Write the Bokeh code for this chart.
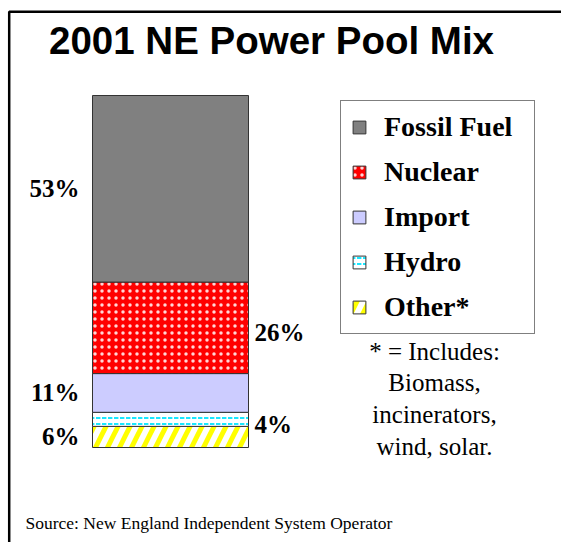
import numpy as np
from bokeh.plotting import figure
from bokeh.models import ColumnDataSource, Range1d, Legend, LegendItem, BoxAnnotation
from bokeh.core.properties import value
from bokeh.embed import file_html
from bokeh.resources import INLINE

# ---- data ----
categories = ["Fossil Fuel", "Nuclear", "Import", "Hydro", "Other*"]
shares = [53, 26, 11, 4, 6]
label_side = ["left", "right", "left", "right", "left"]
title_text = "2001 NE Power Pool Mix"
footnote_lines = ["* = Includes:", "Biomass,", "incinerators,", "wind, solar."]
source_text = "Source: New England Independent System Operator"

# ---- styles ----
fill_colors = ["#808080", "#ff0000", "#ccccff", "#ffffff", "#ffffff"]
hatch_patterns = ["blank", "dot", "blank", "horizontal_dash", "right_diagonal_line"]
hatch_colors = ["#808080", "#ffd6d6", "#ccccff", "#00e5ff", "#ffff00"]
hatch_scales = [12, 7, 12, 6, 24]
hatch_weights = [1, 0.8, 1, 1.8, 5]

W, H = 561, 542
PX_PER_X = 156.0   # bar width in pixels
PX_PER_Y = 3.52    # pixels per percent
X0 = -170.0 / PX_PER_X
Y1 = 100 + 95.0 / PX_PER_Y

def px2x(px):
    return X0 + px / PX_PER_X

def px2y(py):
    return Y1 - py / PX_PER_Y

p = figure(width=W, height=H, output_backend="svg", toolbar_location=None,
           title=None, x_axis_location=None, y_axis_location=None,
           x_range=Range1d(X0, X0 + W / PX_PER_X), y_range=Range1d(Y1 - H / PX_PER_Y, Y1),
           min_border=0)
p.grid.visible = False
p.outline_line_color = None
p.background_fill_color = "white"
p.border_fill_color = "white"

# stacked bar, bottom segment first
vals = np.array(shares, dtype=float)
order = list(range(len(categories)))[::-1]
bottoms = {}
acc = 0.0
for i in order:
    bottoms[i] = acc
    acc += vals[i]

renderers = {}
for i in order:
    src = ColumnDataSource(dict(x=[0], bottom=[bottoms[i]], top=[bottoms[i] + vals[i]]))
    renderers[i] = p.vbar(x="x", bottom="bottom", top="top", width=1, source=src,
                          fill_color=fill_colors[i], line_color="#333333", line_width=1,
                          hatch_pattern=hatch_patterns[i], hatch_color=hatch_colors[i],
                          hatch_scale=hatch_scales[i], hatch_weight=hatch_weights[i])

# percentage labels
for side, xpos, xoff, yoff, align in [("left", -0.5, -13, 0, "right"), ("right", 0.5, 6, 5, "left")]:
    idx = [i for i in range(len(categories)) if label_side[i] == side]
    src = ColumnDataSource(dict(
        x=[xpos] * len(idx),
        y=[bottoms[i] + vals[i] / 2 for i in idx],
        text=[f"{shares[i]}%" for i in idx]))
    p.text(x="x", y="y", text="text", source=src, x_offset=xoff, y_offset=yoff,
           text_align=align, text_baseline="middle",
           text_font=value("Liberation Serif"), text_font_style="bold",
           text_font_size="25px", text_color="black")

# legend
legend = Legend(
    items=[LegendItem(label=value(c), renderers=[renderers[i]]) for i, c in enumerate(categories)],
    location=(340, H - 334), margin=0, padding=10, spacing=13,
    glyph_width=16, glyph_height=16, label_standoff=17, label_width=140,
    label_text_font="Liberation Serif", label_text_font_style="bold",
    label_text_font_size="28px", label_text_color="black",
    border_line_color="black", border_line_width=1.5,
    background_fill_color="white", background_fill_alpha=1.0)
p.add_layout(legend)

# title
p.text(x=[px2x(271)], y=[px2y(39.5)], text=[title_text],
       text_align="center", text_baseline="middle",
       text_font=value("Liberation Sans"), text_font_style="bold",
       text_font_size="38.5px", text_color="black")

# footnote
foot_src = ColumnDataSource(dict(
    x=[px2x(434)] * len(footnote_lines),
    y=[px2y(350.5 + 31.7 * k) for k in range(len(footnote_lines))],
    text=footnote_lines))
p.text(x="x", y="y", text="text", source=foot_src,
       text_align="center", text_baseline="middle",
       text_font=value("Liberation Serif"), text_font_size="25px", text_color="black")

# source
p.text(x=[px2x(25)], y=[px2y(522)], text=[source_text],
       text_align="left", text_baseline="middle",
       text_font=value("Liberation Serif"), text_font_size="17.5px", text_color="black")

# frame lines on left and top only (right/bottom fall outside the canvas)
p.add_layout(BoxAnnotation(left=px2x(8.7), right=px2x(600), top=px2y(11.2), bottom=px2y(600),
                           fill_alpha=0, line_color="black", line_alpha=1.0, line_width=2.5))

open("out.html", "w").write(file_html(p, INLINE))
